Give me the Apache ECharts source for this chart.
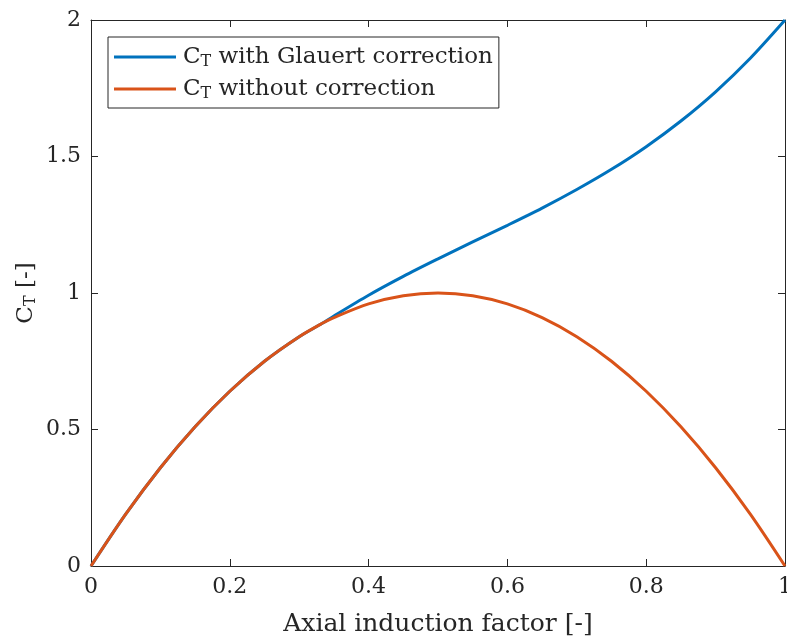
<!DOCTYPE html>
<html>
<head>
<meta charset="utf-8">
<script src="https://cdn.jsdelivr.net/npm/echarts@6/dist/echarts.min.js"></script>
<style>
  html, body { margin: 0; padding: 0; background: #fff; }
  #main { width: 787px; height: 642px; }
</style>
</head>
<body>
<div id="main"></div>
<script>
// axial induction factor a
var axialFactor = [0, 0.05, 0.1, 0.15, 0.2, 0.25, 0.3, 0.3333, 0.35, 0.4, 0.45, 0.5, 0.55,
    0.6, 0.65, 0.7, 0.75, 0.8, 0.85, 0.9, 0.95, 1];
// C_T with Glauert correction
var ctGlauert = [0, 0.19, 0.36, 0.51, 0.64, 0.75, 0.84, 0.889, 0.916, 0.992, 1.061, 1.125, 1.187,
    1.248, 1.311, 1.379, 1.453, 1.536, 1.630, 1.737, 1.860, 2.0];
// C_T without correction
var ctPlain = [0, 0.19, 0.36, 0.51, 0.64, 0.75, 0.84, 0.889, 0.91, 0.96, 0.99, 1.0, 0.99,
    0.96, 0.91, 0.84, 0.75, 0.64, 0.51, 0.36, 0.19, 0];
var xTicks = [0, 0.2, 0.4, 0.6, 0.8, 1];
var yTicks = [0, 0.5, 1, 1.5, 2];
var seriesNames = ['glauert', 'plain'];

var FONT = 'DejaVu Serif';
var AXIS_COLOR = '#262626';

function pairs(xs, ys) {
    var out = [];
    for (var i = 0; i < xs.length; i++) {
        out.push([xs[i], ys[i]]);
    }
    return out;
}

// 轴的公共样式，刻度朝内
function makeAxis(pos, min, max, interval, showLabel) {
    return {
        type: 'value',
        position: pos,
        min: min,
        max: max,
        interval: interval,
        axisLine: { show: true, onZero: false, lineStyle: { color: AXIS_COLOR, width: 1 } },
        axisTick: { show: true, inside: true, length: 7, lineStyle: { color: AXIS_COLOR } },
        axisLabel: {
            show: showLabel,
            color: AXIS_COLOR,
            fontFamily: FONT,
            fontSize: 22,
            margin: 10,
            formatter: function (v) { return String(v); }
        },
        splitLine: { show: false }
    };
}

var rich = {
    c: { fontFamily: FONT, fontSize: 23, color: AXIS_COLOR, lineHeight: 26 },
    sub: { fontFamily: FONT, fontSize: 16, color: AXIS_COLOR, lineHeight: 26, padding: [10, 0, 0, 0] },
    t: { fontFamily: FONT, fontSize: 23, color: AXIS_COLOR, lineHeight: 26 }
};

var labels = {
    glauert: '{c|C}{sub|T}{t| with Glauert correction}',
    plain: '{c|C}{sub|T}{t| without correction}'
};

var xBottom = makeAxis('bottom', xTicks[0], xTicks[xTicks.length - 1], 0.2, true);
xBottom.name = 'Axial induction factor [-]';
xBottom.nameLocation = 'middle';
xBottom.nameGap = 46;
xBottom.nameTextStyle = { fontFamily: FONT, fontSize: 25, color: AXIS_COLOR };

var yLeft = makeAxis('left', yTicks[0], yTicks[yTicks.length - 1], 0.5, true);
yLeft.name = '{c|C}{sub|T}{t| [-]}';
yLeft.nameLocation = 'middle';
yLeft.nameGap = 52;
yLeft.nameMoveOverlap = false;
yLeft.nameRotate = 90;
yLeft.nameTextStyle = { rich: rich };

var chart = echarts.init(document.getElementById('main'));
chart.setOption({
    backgroundColor: '#fff',
    animation: false,
    grid: { left: 91, right: 2, top: 20, bottom: 76, containLabel: false, outerBoundsMode: 'none' },
    legend: {
        left: 108,
        top: 37,
        orient: 'vertical',
        icon: 'rect',
        itemWidth: 62,
        itemHeight: 3,
        itemGap: 6,
        padding: [7, 6, 6, 6],
        borderColor: AXIS_COLOR,
        borderWidth: 1,
        backgroundColor: '#fff',
        data: seriesNames,
        formatter: function (name) { return labels[name]; },
        textStyle: { rich: rich, padding: [0, 0, 0, 2] }
    },
    xAxis: [xBottom, makeAxis('top', 0, 1, 0.2, false)],
    yAxis: [yLeft, makeAxis('right', 0, 2, 0.5, false)],
    series: [
        {
            name: 'glauert',
            type: 'line',
            data: pairs(axialFactor, ctGlauert),
            smooth: 0.3,
            showSymbol: false,
            lineStyle: { color: '#0072BD', width: 3 },
            itemStyle: { color: '#0072BD' }
        },
        {
            name: 'plain',
            type: 'line',
            data: pairs(axialFactor, ctPlain),
            smooth: 0.3,
            showSymbol: false,
            lineStyle: { color: '#D95319', width: 3 },
            itemStyle: { color: '#D95319' }
        }
    ]
});
</script>
</body>
</html>
